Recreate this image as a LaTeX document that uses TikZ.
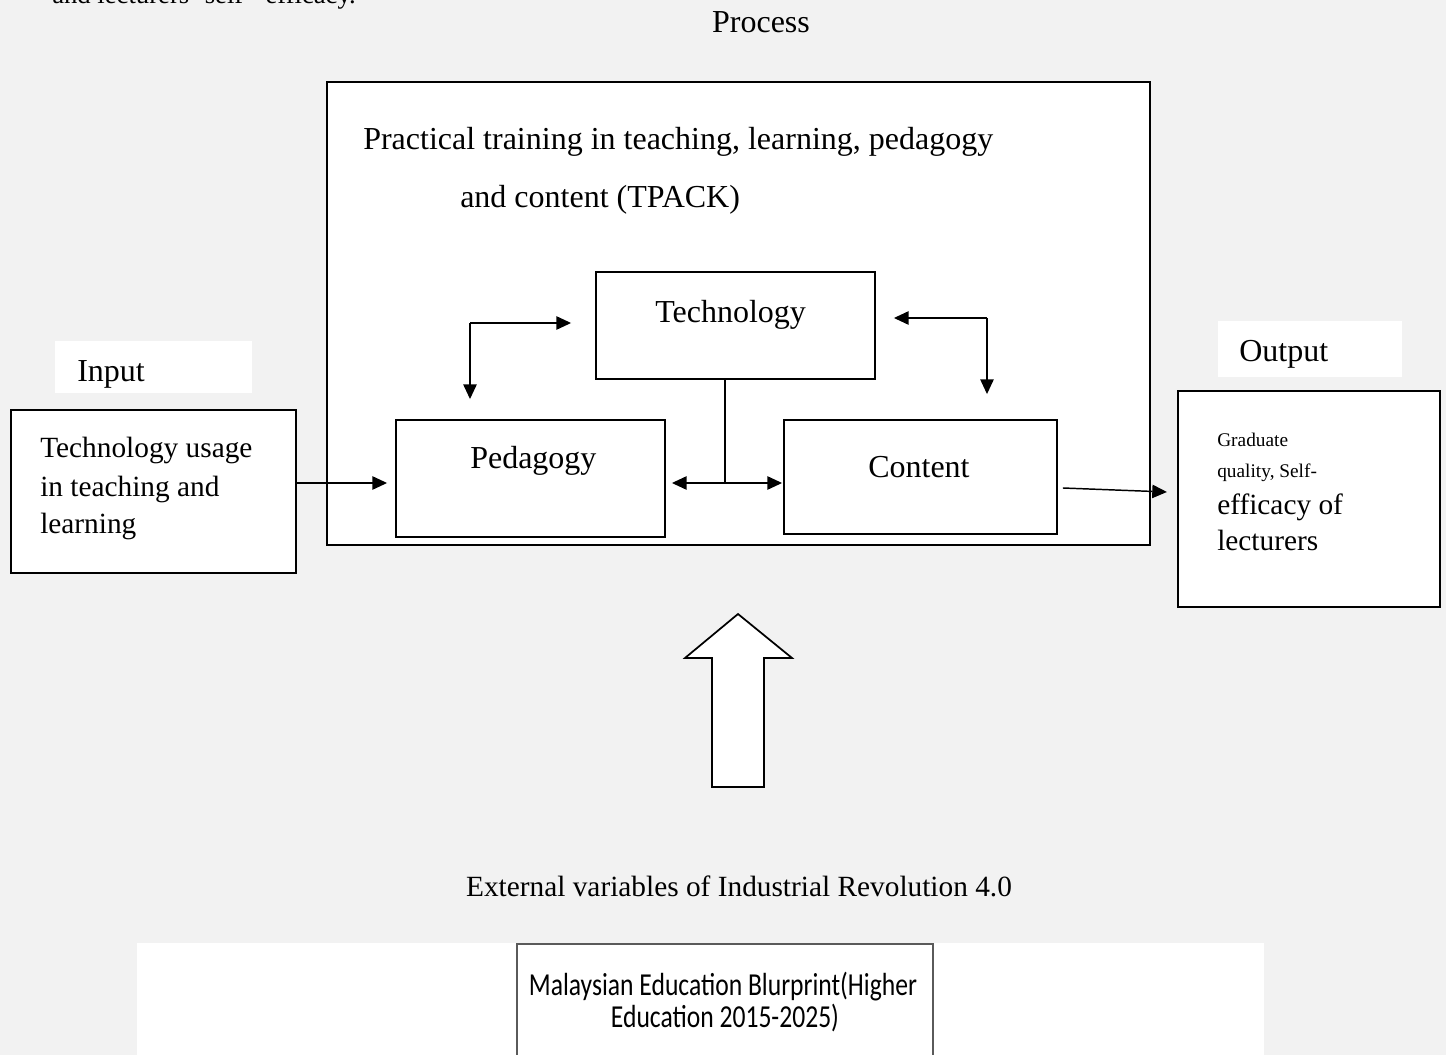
\documentclass[tikz,border=0pt]{standalone}
\usepackage{fontspec}
\setmainfont{Liberation Serif}
\newfontfamily\calfont{Carlito}
\usetikzlibrary{arrows.meta}
\definecolor{bggray}{HTML}{F2F2F2}
\definecolor{edgegray}{HTML}{5A5A5A}
\tikzset{
  box/.style={draw, fill=white, line width=1.4pt, inner sep=0pt},
  tag/.style={fill=white, inner sep=0pt},
  big/.style={font=\fontsize{24}{28}\selectfont, inner sep=0pt},
  mid/.style={font=\fontsize{22}{26}\selectfont, inner sep=0pt},
  little/.style={font=\fontsize{14.5}{17}\selectfont, inner sep=0pt},
  sans/.style={font=\calfont\fontsize{24}{28}\selectfont, inner sep=0pt, anchor=base},
  arr/.style={line width=1.1pt, -{Triangle[length=11pt,width=10pt]}},
  darr/.style={line width=1.1pt, {Triangle[length=11pt,width=10pt]}-{Triangle[length=11pt,width=10pt]}}
}
\begin{document}
\begin{tikzpicture}[x=0.75pt,y=-0.75pt]
\useasboundingbox (0,0) rectangle (1446,1055);
\fill[bggray] (0,0) rectangle (1446,1055);
\clip (0,0) rectangle (1446,1055);
% cut off line of the page above
\node[font=\fontsize{20}{24}\selectfont, inner sep=0pt, anchor=base west] (cut) at (52,4) {and lecturers’ self-\ \ efficacy.};
% process
\node[big, anchor=base] (ptitle) at (761,33) {Process};
\node[box, line width=1.5pt, minimum width=617.25pt, minimum height=347.25pt] (proc) at (738.5,313.5) {};
\node[big, anchor=base west] (ptxt1) at (363,150) {Practical training in teaching, learning, pedagogy};
\node[big, anchor=base west] (ptxt2) at (460,208) {and content (TPACK)};
\node[box, minimum width=209.25pt, minimum height=80.25pt] (tech) at (735.5,325.5) {};
\node[big, anchor=base west] at (655,323) {Technology};
\node[box, minimum width=201.75pt, minimum height=87.75pt] (ped) at (530.5,478.5) {};
\node[big, anchor=base west] at (470,469) {Pedagogy};
\node[box, minimum width=204.75pt, minimum height=85.5pt] (cont) at (920.5,477) {};
\node[big, anchor=base west] at (868,478) {Content};
% input
\node[tag, minimum width=147.75pt, minimum height=39pt] (inlbl) at (153.5,367) {};
\node[big, anchor=base west] at (77,382) {Input};
\node[box, line width=1.6pt, minimum width=213.75pt, minimum height=122.25pt] (inbox) at (153.5,491.5) {};
\node[mid, anchor=base west] (in1) at (40,458) {Technology usage};
\node[mid, anchor=base west] (in2) at (40,496) {in teaching and};
\node[mid, anchor=base west] (in3) at (40,533) {learning};
% output
\node[tag, minimum width=138pt, minimum height=42pt] (outlbl) at (1310,349) {};
\node[big, anchor=base west] at (1239,362) {Output};
\node[box, line width=1.6pt, minimum width=196.5pt, minimum height=162pt] (outbox) at (1309,499) {};
\node[little, anchor=base west] (out1) at (1217,446) {Graduate};
\node[little, anchor=base west] (out2) at (1217,478) {quality, Self-};
\node[mid, anchor=base west] (out3) at (1217,514) {efficacy of};
\node[mid, anchor=base west] (out4) at (1217,550) {lecturers};
% links
\coordinate (tl) at (470,323);
\coordinate (tr) at (987,318);
\coordinate (tp) at (725,483);
\draw[arr, shorten >=18pt] (tl) -- (tl -| tech.west);
\draw[arr, shorten >=15pt] (tl) -- (tl |- ped.north);
\draw[arr, shorten >=13.5pt] (tr) -- (tr -| tech.east);
\draw[arr, shorten >=18.75pt] (tr) -- (tr |- cont.north);
\draw[line width=1.1pt] (tech.south -| tp) -- (tp);
\draw[darr, shorten <=4.5pt, shorten >=0.75pt] (ped.east |- tp) -- (cont.west |- tp);
\draw[arr, shorten >=6pt] (inbox.east |- tp) -- (ped.west |- tp);
\draw[arr] ([xshift=3.75pt,yshift=-8.25pt]cont.east) -- ([xshift=-7.5pt,yshift=5.25pt]outbox.west);
% block arrow
\filldraw[fill=white, line width=1.3pt] (712,787) -- (712,658) -- (685,658) -- (738,614)
  -- (792,658) -- (764,658) -- (764,787) -- cycle;
\node[mid, anchor=base] (ext) at (739,896) {External variables of Industrial Revolution 4.0};
% blueprint
\fill[white] (137,943) rectangle (1264,1060);
\draw[edgegray, line width=1pt] (517,1070) -- (517,944) -- (933,944) -- (933,1070);
\node[sans] (meb1) at (723,995) {\scalebox{0.8}[1]{Malaysian Education Blurprint(Higher}};
\node[sans] (meb2) at (725,1027) {\scalebox{0.8}[1]{Education 2015-2025)}};
\end{tikzpicture}
\end{document}
